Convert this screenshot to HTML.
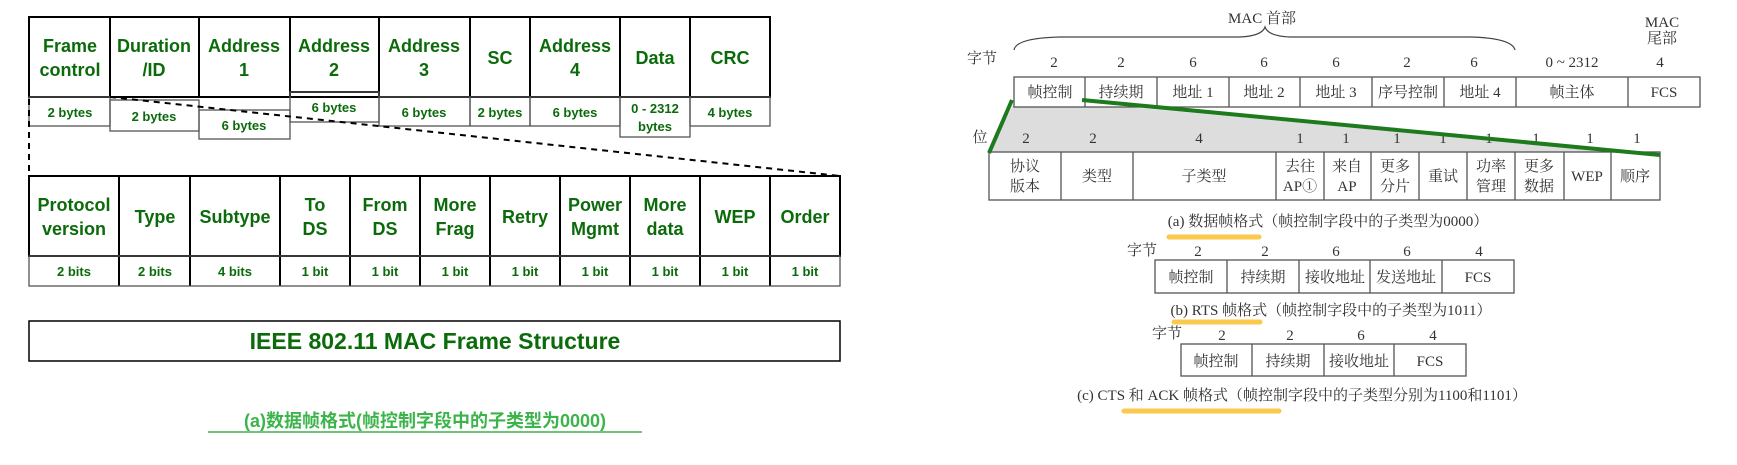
<!DOCTYPE html>
<html><head><meta charset="utf-8"><style>
html,body{margin:0;padding:0;background:#fff;width:1737px;height:465px;overflow:hidden}
svg{display:block}
.g{fill:#0b6b0b;font-family:"Liberation Sans",sans-serif;font-weight:bold;text-anchor:middle}
.h{font-size:18px}
.b{font-size:13px}
.s{fill:#333;font-family:"Liberation Serif","Noto Serif CJK SC",serif;font-size:15px;text-anchor:middle}
</style></head><body>
<svg width="1737" height="465" viewBox="0 0 1737 465" xmlns="http://www.w3.org/2000/svg">
<g fill="none" stroke="#000" stroke-width="2">
<rect x="29" y="17" width="741" height="80"/>
<line x1="110" y1="17" x2="110" y2="97"/><line x1="199" y1="17" x2="199" y2="97"/><line x1="290" y1="17" x2="290" y2="97"/><line x1="379" y1="17" x2="379" y2="97"/><line x1="470" y1="17" x2="470" y2="97"/><line x1="530" y1="17" x2="530" y2="97"/><line x1="620" y1="17" x2="620" y2="97"/><line x1="690" y1="17" x2="690" y2="97"/>
<line x1="290" y1="92" x2="379" y2="92"/>
</g>
<g fill="none" stroke="#555" stroke-width="1.3">
<rect x="29" y="97" width="81" height="29"/>
<rect x="110" y="100" width="89" height="31"/>
<rect x="199" y="110" width="91" height="29"/>
<rect x="290" y="92" width="89" height="30"/>
<rect x="379" y="97" width="91" height="29"/>
<rect x="470" y="97" width="60" height="29"/>
<rect x="530" y="97" width="90" height="29"/>
<rect x="620" y="97" width="70" height="40"/>
<rect x="690" y="97" width="80" height="29"/>
</g>
<g stroke="#000" stroke-width="2" stroke-dasharray="6,5" fill="none">
<line x1="29" y1="99" x2="29" y2="176"/>
<line x1="110" y1="97" x2="840" y2="176"/>
</g>
<g class="g h">
<text x="70" y="52">Frame</text><text x="70" y="76">control</text>
<text x="154" y="52">Duration</text><text x="154" y="76">/ID</text>
<text x="244" y="52">Address</text><text x="244" y="76">1</text>
<text x="334" y="52">Address</text><text x="334" y="76">2</text>
<text x="424" y="52">Address</text><text x="424" y="76">3</text>
<text x="500" y="64">SC</text>
<text x="575" y="52">Address</text><text x="575" y="76">4</text>
<text x="655" y="64">Data</text>
<text x="730" y="64">CRC</text>
</g>
<g class="g b">
<text x="70" y="117">2 bytes</text>
<text x="154" y="121">2 bytes</text>
<text x="244" y="130">6 bytes</text>
<text x="334" y="112">6 bytes</text>
<text x="424" y="117">6 bytes</text>
<text x="500" y="117">2 bytes</text>
<text x="575" y="117">6 bytes</text>
<text x="655" y="113">0 - 2312</text><text x="655" y="131">bytes</text>
<text x="730" y="117">4 bytes</text>
</g>
<g fill="none" stroke="#000" stroke-width="2">
<rect x="29" y="176" width="811" height="80"/>
<line x1="119" y1="176" x2="119" y2="286"/><line x1="190" y1="176" x2="190" y2="286"/><line x1="280" y1="176" x2="280" y2="286"/><line x1="350" y1="176" x2="350" y2="286"/><line x1="420" y1="176" x2="420" y2="286"/><line x1="490" y1="176" x2="490" y2="286"/><line x1="560" y1="176" x2="560" y2="286"/><line x1="630" y1="176" x2="630" y2="286"/><line x1="700" y1="176" x2="700" y2="286"/><line x1="770" y1="176" x2="770" y2="286"/>
</g>
<rect x="29" y="256" width="811" height="30" fill="none" stroke="#555" stroke-width="1.3"/>
<g class="g h">
<text x="74" y="211">Protocol</text><text x="74" y="235">version</text>
<text x="155" y="223">Type</text>
<text x="235" y="223">Subtype</text>
<text x="315" y="211">To</text><text x="315" y="235">DS</text>
<text x="385" y="211">From</text><text x="385" y="235">DS</text>
<text x="455" y="211">More</text><text x="455" y="235">Frag</text>
<text x="525" y="223">Retry</text>
<text x="595" y="211">Power</text><text x="595" y="235">Mgmt</text>
<text x="665" y="211">More</text><text x="665" y="235">data</text>
<text x="735" y="223">WEP</text>
<text x="805" y="223">Order</text>
</g>
<g class="g b">
<text x="74" y="276">2 bits</text><text x="155" y="276">2 bits</text><text x="235" y="276">4 bits</text><text x="315" y="276">1 bit</text><text x="385" y="276">1 bit</text><text x="455" y="276">1 bit</text><text x="525" y="276">1 bit</text><text x="595" y="276">1 bit</text><text x="665" y="276">1 bit</text><text x="735" y="276">1 bit</text><text x="805" y="276">1 bit</text>
</g>
<rect x="29" y="321" width="811" height="40" fill="none" stroke="#000" stroke-width="1.5"/>
<text class="g" x="435" y="349" style="font-size:23px">IEEE 802.11 MAC Frame Structure</text>
<text class="g" x="425" y="427" style="font-size:18px;fill:#3cb44b;font-family:'Liberation Sans','Noto Sans CJK SC',sans-serif">(a)数据帧格式(帧控制字段中的子类型为0000)</text>
<line x1="208" y1="432" x2="642" y2="432" stroke="#3cb44b" stroke-width="1.5"/>

<!-- right panel -->
<text class="s" x="1262" y="23">MAC 首部</text>
<path d="M1014,50 Q1016,38 1060,37 L1240,37 Q1262,36 1265,27 Q1268,36 1290,37 L1470,37 Q1512,38 1515,50" fill="none" stroke="#444" stroke-width="1.2"/>
<text class="s" x="1662" y="27">MAC</text><text class="s" x="1662" y="43">尾部</text>
<polygon points="1014,103 1085,103 1660,155 989,153" fill="#ddd"/>
<g class="s"><text x="982" y="63">字节</text>
<text x="1054" y="67">2</text><text x="1121" y="67">2</text><text x="1193" y="67">6</text><text x="1264" y="67">6</text><text x="1336" y="67">6</text><text x="1407" y="67">2</text><text x="1474" y="67">6</text><text x="1572" y="67">0 ~ 2312</text><text x="1660" y="67">4</text></g>
<g fill="#fff" stroke="#555" stroke-width="1.3">
<rect x="1014" y="77" width="686" height="30"/>
<rect x="989" y="152" width="671" height="48"/>
<rect x="1155" y="260" width="359" height="33"/>
<rect x="1181" y="344" width="285" height="32"/>
</g>
<g stroke="#555" stroke-width="1.3">
<line x1="1085" y1="77" x2="1085" y2="107"/><line x1="1157" y1="77" x2="1157" y2="107"/><line x1="1229" y1="77" x2="1229" y2="107"/><line x1="1300" y1="77" x2="1300" y2="107"/><line x1="1372" y1="77" x2="1372" y2="107"/><line x1="1444" y1="77" x2="1444" y2="107"/><line x1="1516" y1="77" x2="1516" y2="107"/><line x1="1628" y1="77" x2="1628" y2="107"/>
<line x1="1061" y1="152" x2="1061" y2="200"/><line x1="1133" y1="152" x2="1133" y2="200"/><line x1="1276" y1="152" x2="1276" y2="200"/><line x1="1324" y1="152" x2="1324" y2="200"/><line x1="1371" y1="152" x2="1371" y2="200"/><line x1="1419" y1="152" x2="1419" y2="200"/><line x1="1467" y1="152" x2="1467" y2="200"/><line x1="1515" y1="152" x2="1515" y2="200"/><line x1="1564" y1="152" x2="1564" y2="200"/><line x1="1611" y1="152" x2="1611" y2="200"/>
<line x1="1227" y1="260" x2="1227" y2="293"/><line x1="1299" y1="260" x2="1299" y2="293"/><line x1="1370" y1="260" x2="1370" y2="293"/><line x1="1442" y1="260" x2="1442" y2="293"/>
<line x1="1252" y1="344" x2="1252" y2="376"/><line x1="1324" y1="344" x2="1324" y2="376"/><line x1="1394" y1="344" x2="1394" y2="376"/>
</g>
<g class="s">
<text x="1050" y="97">帧控制</text><text x="1121" y="97">持续期</text><text x="1193" y="97">地址 1</text><text x="1264" y="97">地址 2</text><text x="1336" y="97">地址 3</text><text x="1408" y="97">序号控制</text><text x="1480" y="97">地址 4</text><text x="1572" y="97">帧主体</text><text x="1664" y="97">FCS</text>
<text x="980" y="142">位</text>
<text x="1026" y="143">2</text><text x="1093" y="143">2</text><text x="1199" y="143">4</text><text x="1300" y="143">1</text><text x="1346" y="143">1</text><text x="1397" y="143">1</text><text x="1443" y="143">1</text><text x="1489" y="143">1</text><text x="1536" y="143">1</text><text x="1590" y="143">1</text><text x="1637" y="143">1</text>
<text x="1025" y="171">协议</text><text x="1025" y="191">版本</text>
<text x="1097" y="181">类型</text>
<text x="1204" y="181">子类型</text>
<text x="1300" y="171">去往</text><text x="1300" y="191">AP①</text>
<text x="1347" y="171">来自</text><text x="1347" y="191">AP</text>
<text x="1395" y="171">更多</text><text x="1395" y="191">分片</text>
<text x="1443" y="181">重试</text>
<text x="1491" y="171">功率</text><text x="1491" y="191">管理</text>
<text x="1539" y="171">更多</text><text x="1539" y="191">数据</text>
<text x="1587" y="181">WEP</text>
<text x="1635" y="181">顺序</text>
<text x="1328" y="226">(a) 数据帧格式（帧控制字段中的子类型为0000）</text>
<text x="1142" y="255">字节</text>
<text x="1198" y="256">2</text><text x="1265" y="256">2</text><text x="1336" y="256">6</text><text x="1407" y="256">6</text><text x="1479" y="256">4</text>
<text x="1191" y="282">帧控制</text><text x="1263" y="282">持续期</text><text x="1335" y="282">接收地址</text><text x="1406" y="282">发送地址</text><text x="1478" y="282">FCS</text>
<text x="1331" y="315">(b) RTS 帧格式（帧控制字段中的子类型为1011）</text>
<text x="1167" y="338">字节</text>
<text x="1222" y="340">2</text><text x="1290" y="340">2</text><text x="1361" y="340">6</text><text x="1433" y="340">4</text>
<text x="1216" y="366">帧控制</text><text x="1288" y="366">持续期</text><text x="1359" y="366">接收地址</text><text x="1430" y="366">FCS</text>
<text x="1302" y="400">(c) CTS 和 ACK 帧格式（帧控制字段中的子类型分别为1100和1101）</text>
</g>
<g stroke="#1d7a1d" stroke-width="4">
<line x1="1012" y1="100" x2="989" y2="153"/>
<line x1="1082" y1="100" x2="1660" y2="155"/>
</g>
<g stroke="#fbc02d" stroke-width="5" stroke-linecap="round" opacity="0.85">
<line x1="1169" y1="237" x2="1259" y2="237"/>
<line x1="1174" y1="322" x2="1260" y2="322"/>
<line x1="1124" y1="411" x2="1279" y2="411"/>
</g>
</svg>
</body></html>
